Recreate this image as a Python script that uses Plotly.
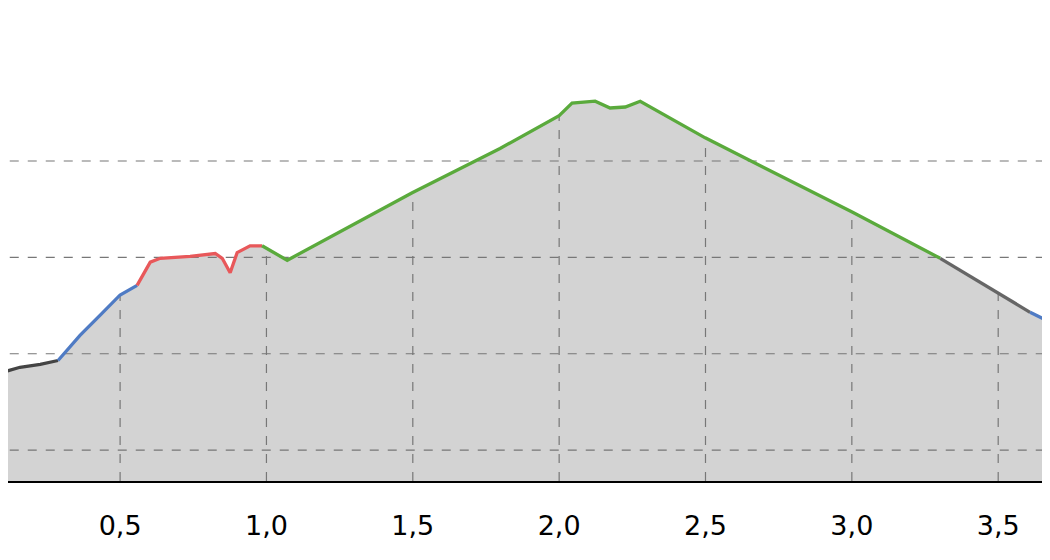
import plotly.graph_objects as go
import numpy as np

# distance (km) and elevation per coloured segment
seg_black_x = [0.090, 0.158, 0.227, 0.288]
seg_black_y = [18.0, 18.6, 18.9, 19.3]
seg_blue1_x = [0.288, 0.363, 0.432, 0.500, 0.558]
seg_blue1_y = [19.3, 21.9, 24.0, 26.1, 27.1]
seg_red_x = [0.558, 0.603, 0.637, 0.739, 0.825, 0.849, 0.876, 0.900, 0.944, 0.985]
seg_red_y = [27.1, 29.5, 29.9, 30.1, 30.4, 29.9, 28.4, 30.5, 31.2, 31.2]
seg_green_x = [0.985, 1.071, 1.498, 1.798, 2.000, 2.044, 2.123, 2.174, 2.226, 2.277, 2.499, 3.001, 3.302]
seg_green_y = [31.2, 29.7, 36.7, 41.3, 44.7, 46.0, 46.2, 45.5, 45.6, 46.2, 42.4, 34.7, 29.9]
seg_gray_x = [3.302, 3.609]
seg_gray_y = [29.9, 24.3]
seg_blue2_x = [3.609, 3.677]
seg_blue2_y = [24.3, 23.3]

x_ticks = [0.5, 1.0, 1.5, 2.0, 2.5, 3.0, 3.5]
y_grid = [10, 20, 30, 40]

segments = [
    (seg_black_x, seg_black_y, "#444444"),
    (seg_blue1_x, seg_blue1_y, "#4f7bc4"),
    (seg_red_x, seg_red_y, "#e8585a"),
    (seg_green_x, seg_green_y, "#5aaa3c"),
    (seg_gray_x, seg_gray_y, "#666666"),
    (seg_blue2_x, seg_blue2_y, "#4f7bc4"),
]

all_x = []
all_y = []
for sx, sy, _ in segments:
    all_x += sx
    all_y += sy

# page has an 8px body margin, so the visible window starts 8px in
x_min, x_max = 0.117, 3.677
y_min, y_max = 6.8, 55.87

fig = go.Figure()
fig.add_trace(go.Scatter(x=all_x, y=all_y, fill="tozeroy", fillcolor="#d3d3d3",
                         line=dict(width=0), mode="lines", hoverinfo="skip"))

grid = dict(color="#777777", width=1.2, dash="dash")
# vertical grid only under the profile
for t in x_ticks:
    top = np.interp(t, all_x, all_y)
    fig.add_trace(go.Scatter(x=[t, t], y=[y_min, top], mode="lines", line=grid))
for g in y_grid:
    fig.add_trace(go.Scatter(x=[0, 4], y=[g, g], mode="lines", line=grid))

for sx, sy, c in segments:
    fig.add_trace(go.Scatter(x=sx, y=sy, mode="lines", line=dict(color=c, width=3.3)))

fig.update_layout(
    width=1042, height=552, showlegend=False,
    margin=dict(l=0, r=0, t=0, b=79),
    plot_bgcolor="white", paper_bgcolor="white",
    separators=",.",
    font=dict(family="DejaVu Sans", size=27, color="black"),
)
fig.update_xaxes(range=[x_min, x_max], tickvals=x_ticks, tickformat=".1f",
                 showgrid=False, zeroline=False, showline=True,
                 linecolor="black", linewidth=2, ticks="", ticklabelstandoff=20)
fig.update_yaxes(range=[y_min, y_max], showgrid=False, zeroline=False,
                 showticklabels=False)
fig.write_html("out.html")
